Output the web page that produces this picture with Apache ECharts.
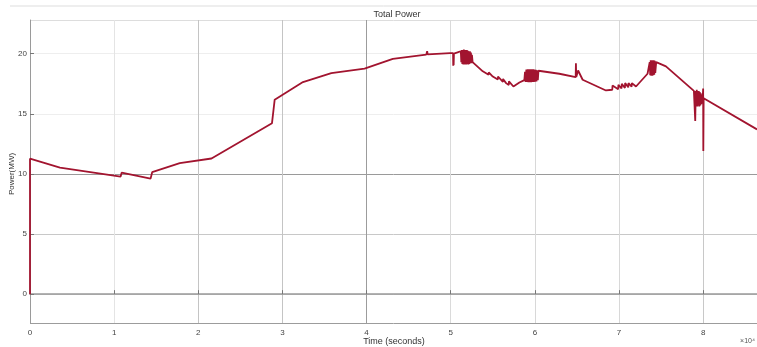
<!DOCTYPE html>
<html>
<head>
<meta charset="utf-8">
<script src="https://cdn.jsdelivr.net/npm/echarts@6/dist/echarts.min.js"></script>
<style>html,body{margin:0;padding:0;background:#fff}#c{width:757px;height:347px}</style>
</head>
<body>
<div id="c"></div>
<script>
// Time in seconds
var timeSec = [
  0, 0, 3560, 10770, 10890, 14330, 14520, 17800, 21570, 28760, 29080, 32440, 35810, 39760, 43120, 47090, 47200, 47260, 49940,
  50280, 50300, 50330, 50350, 50380, 50800,
  51200, 51260, 51320, 51380, 51440, 51500, 51560, 51620, 51680, 51740, 51800, 51860, 51920, 51980, 52040, 52100, 52160, 52220, 52280, 52340, 52400, 52460, 52520, 52600,
  53810, 54500, 54520, 55000, 55600, 55620, 56200, 56220, 56580, 56900, 56920, 57450, 58160,
  58750, 58830, 58910, 58990, 59070, 59150, 59230, 59310, 59390, 59470, 59550, 59630, 59710, 59790, 59870, 59950, 60030, 60110, 60190, 60270, 60350, 60430, 60540,
  62910, 64850, 64880, 64920, 65100, 65140, 65680, 68450,
  69200, 69230, 69900, 69930, 70300, 70330, 70700, 70730, 71100, 71130, 71500, 71530, 72020, 73390,
  73590, 73650, 73710, 73770, 73830, 73890, 73950, 74010, 74070, 74130, 74190, 74250, 74310, 74420,
  74460, 75580, 78900,
  79000, 79060, 79120, 79180, 79240, 79300, 79360, 79420, 79480, 79540, 79600, 79660, 79720, 79780, 79840, 79900, 79960,
  80000, 80020, 80060, 86400
];
// Total power in MW
var powerMW = [
  0, 11.27, 10.52, 9.78, 10.10, 9.61, 10.14, 10.90, 11.28, 14.22, 16.17, 17.64, 18.39, 18.75, 19.56, 19.92, 20.20, 19.94, 20.05,
  20.05, 19.00, 20.00, 19.05, 20.00, 20.10,
  20.20, 19.30, 20.30, 19.15, 20.30, 19.10, 20.35, 19.10, 20.30, 19.10, 20.30, 19.10, 20.30, 19.15, 20.25, 19.10, 20.20, 19.15, 20.20, 19.20, 20.10, 19.20, 19.90, 19.30,
  18.53, 18.25, 18.45, 18.10, 17.85, 18.10, 17.65, 17.90, 17.55, 17.40, 17.70, 17.27, 17.60,
  17.80, 18.50, 17.65, 18.67, 17.64, 18.70, 17.62, 18.70, 17.62, 18.70, 17.62, 18.70, 17.64, 18.70, 17.64, 18.68, 17.66, 18.66, 17.70, 18.62, 17.80, 18.58, 18.50,
  18.33, 18.05, 19.20, 18.05, 18.00, 18.60, 17.83, 16.94,
  17.00, 17.35, 17.05, 17.40, 17.10, 17.50, 17.15, 17.55, 17.20, 17.55, 17.25, 17.55, 17.27, 18.33,
  18.30, 19.30, 18.20, 19.44, 18.17, 19.46, 18.17, 19.46, 18.20, 19.44, 18.25, 19.40, 18.40, 19.30,
  19.17, 18.94, 16.90,
  16.80, 14.40, 16.90, 15.70, 17.00, 15.60, 16.90, 15.70, 16.90, 15.60, 16.80, 15.70, 16.70, 15.80, 16.60, 15.90, 16.50,
  17.10, 11.90, 16.30, 13.70
];
var xTickLabels = ['0', '1', '2', '3', '4', '5', '6', '7', '8'];
var yTickValues = [0, 5, 10, 15, 20];

var data = timeSec.map(function (t, i) { return [t, powerMW[i]]; });

var chart = echarts.init(document.getElementById('c'), null, { renderer: 'canvas' });
var font = 'Liberation Sans, Arial, sans-serif';
chart.setOption({
  animation: false,
  backgroundColor: '#ffffff',
  title: {
    text: 'Total Power', left: 392, top: 5, textAlign: 'center',
    textStyle: { fontSize: 9, fontWeight: 'normal', color: '#333', fontFamily: font }
  },
  grid: { left: 30, right: 0, top: 20, bottom: 24, containLabel: false, outerBoundsMode: 'none' },
  xAxis: {
    type: 'value', min: 0, max: 86400, interval: 10000,
    axisLine: { show: true, lineStyle: { color: '#9a9a9a', width: 1.5 } },
    axisTick: { show: true, inside: true, length: 4, lineStyle: { color: '#777' } },
    axisLabel: {
      fontSize: 8, color: '#444', fontFamily: font, margin: 6, showMaxLabel: false,
      formatter: function (v) { var k = Math.round(v / 10000); return (v % 10000 === 0 && xTickLabels[k] !== undefined) ? xTickLabels[k] : ''; }
    },
    splitLine: { show: true, lineStyle: { width: 1, color: ['#bbbbbb', '#e4e4e4', '#c4c4c4', '#c4c4c4', '#9c9c9c', '#dadada', '#d8d8d8', '#d8d8d8', '#c8c8c8', '#dddddd'] } }
  },
  yAxis: {
    type: 'value', min: -2.4, max: 22.8, splitNumber: 5,
    axisLine: { show: true, lineStyle: { color: '#9a9a9a', width: 1 } },
    axisTick: { show: true, inside: true, length: 4, lineStyle: { color: '#777' } },
    axisLabel: {
      fontSize: 8, color: '#444', fontFamily: font, margin: 3, showMinLabel: false, showMaxLabel: false,
      formatter: function (v) { return yTickValues.indexOf(v) >= 0 ? String(v) : ''; }
    },
    splitLine: { show: true, lineStyle: { width: 1, color: ['#9c9c9c', '#c8c8c8', '#c8c8c8', '#9a9a9a', '#eeeeee', '#eeeeee', '#dddddd'] } }
  },
  graphic: [
    { type: 'line', shape: { x1: 10, y1: 6, x2: 757, y2: 6 }, style: { stroke: '#dddddd', lineWidth: 1 } },
    { type: 'text', x: 394, y: 342, style: { text: 'Time (seconds)', fontSize: 9, fill: '#333', fontFamily: font, align: 'center', verticalAlign: 'middle' } },
    { type: 'text', x: 12, y: 174, rotation: Math.PI / 2, style: { text: 'Power(MW)', fontSize: 8, fill: '#333', fontFamily: font, align: 'center', verticalAlign: 'middle' } },
    { type: 'text', right: 2, top: 338, style: { text: '×10⁴', fontSize: 7, fill: '#555', fontFamily: font } }
  ],
  series: [{
    type: 'line', data: data, showSymbol: false, symbol: 'none',
    lineStyle: { color: '#A2142F', width: 1.8 },
    itemStyle: { color: '#A2142F' }
  }]
});
</script>
</body>
</html>
